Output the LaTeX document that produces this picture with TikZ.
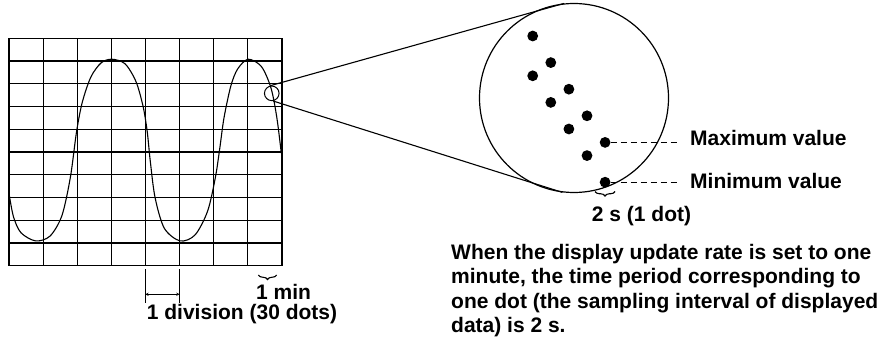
\documentclass[tikz,border=0pt]{standalone}
\usepackage{fontspec}
\setmainfont{Liberation Sans}
\usetikzlibrary{decorations.pathreplacing}

\tikzstyle{gridline} = [line width=1.1pt]
\tikzstyle{wave} = [line width=1.1pt]
\tikzstyle{lens} = [circle,draw,line width=1.2pt,inner sep=0pt]
\tikzstyle{dot} = [circle,fill=black,inner sep=0pt,minimum size=10.8pt]
\tikzstyle{lbl} = [font=\bfseries\fontsize{21}{24.5}\selectfont,inner sep=0pt]
\tikzstyle{leader} = [line width=1pt,dash pattern=on 6pt off 4pt]
\tikzstyle{brace} = [line width=1.1pt,decorate,decoration={brace,mirror,amplitude=4.5pt}]
\tikzstyle{arrow} = [line width=0.5pt,<->,>=stealth]

\begin{document}
\begin{tikzpicture}[x=1pt,y=1pt]
\useasboundingbox (0,0) rectangle (883,337);

% Screen grid and trace
\begin{scope}[shift={(9,71.3)},x=34.125pt,y=22.74pt]
\foreach \i in {0,...,8} \draw [gridline] (\i,0) -- (\i,10);
\foreach \j in {0,...,10} \draw [gridline] (0,\j) -- (8,\j);
\draw [wave] plot [smooth] coordinates {(0,3.18) (0.13,2.16) (0.35,1.45) (0.78,1.09)
  (1.2,1.3) (1.55,2.2) (1.8,3.9) (1.98,5.9) (2.15,7.2) (2.4,8.3) (2.7,8.92) (3.01,9.08)
  (3.4,8.88) (3.72,8.1) (3.93,7.0) (4.05,5.9) (4.14,4.6) (4.28,3.0) (4.55,1.65) (5.01,1.09)
  (5.45,1.35) (5.82,2.4) (6.05,3.9) (6.18,5.2) (6.3,6.5) (6.5,7.9) (6.7,8.65) (7.01,9.08)
  (7.4,8.75) (7.68,7.8) (7.85,6.5) (7.98,4.94)};
\node [lens,line width=1pt,minimum size=14.6pt] (mark) at (7.70,7.58) {};
\end{scope}

% 1 division
\coordinate (d1top) at (145.3,67.7);
\coordinate (d1bot) at (145.3,34.3);
\coordinate (d2top) at (179.6,67.7);
\coordinate (d2bot) at (179.6,34.3);
\draw [gridline] (d1top) -- (d1bot);
\draw [gridline] (d2top) -- (d2bot);
\coordinate (a1) at (145.3,42.7);
\coordinate (a2) at (179.6,42.7);
\draw [arrow] (a1) -- (a2);
\node [lbl,anchor=base west] (divtxt) at (146.7,17.7) {1 division (30 dots)};

% 1 min
\draw [brace] (258.3,62) -- (276.7,62);
\node [lbl,anchor=base west] (mintime) at (256,37.7) {1 min};

% Magnified view
\node [lens,minimum size=189pt] (zoom) at (574,239) {};
\draw [wave] (mark.100) -- (zoom.96);
\draw [wave] (mark.-80) -- (zoom.263);
\foreach \i in {0,...,4} {
  \node [dot] (hi\i) at (532.7+18.1*\i,301-26.6*\i) {};
  \node [dot] (lo\i) at (532.7+18.1*\i,261.2-26.6*\i) {};
}

% Maximum and minimum
\node [lbl,anchor=base west] (maxtxt) at (690,191.3) {Maximum value};
\node [lbl,anchor=base west] (mintxt) at (690,148.7) {Minimum value};
\draw [leader,shorten >=10pt] (hi4.east) -- (hi4 -| maxtxt.west);
\draw [leader,shorten >=10pt] (lo4.east) -- (lo4 -| mintxt.west);

% 2 s
\draw [brace] (595,145.5) -- (615,145.5);
\node [lbl,anchor=base west] (dottxt) at (591.7,115.3) {2 s (1 dot)};

% Note
\node [lbl,anchor=north west,align=left] (note) at (451,93) {When the display update rate is set to one\\minute, the time period corresponding to\\one dot (the sampling interval of displayed\\data) is 2 s.};

\end{tikzpicture}
\end{document}
